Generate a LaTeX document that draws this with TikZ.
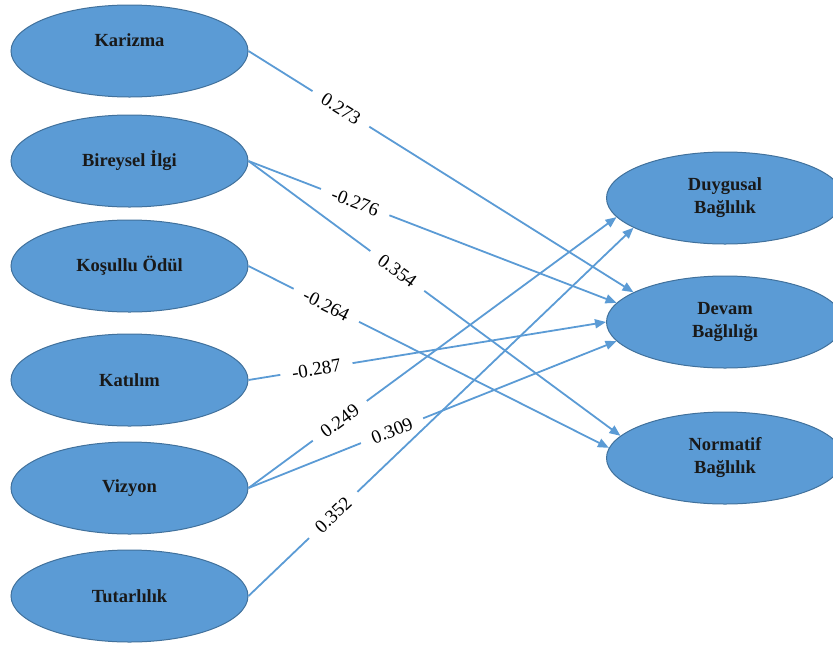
\documentclass[tikz,border=0pt]{standalone}
\usepackage{fontspec}
\setmainfont{Liberation Serif}
\usetikzlibrary{shapes.geometric,arrows.meta}
\definecolor{ofblue}{HTML}{5B9BD5}
\definecolor{ofedge}{HTML}{41719C}
\begin{document}
\begin{tikzpicture}[x=1pt,y=-1pt,
  ell/.style={ellipse, draw=ofedge, line width=1pt, fill=ofblue,
    minimum width=237pt, minimum height=92pt, inner sep=0pt,
    font=\fontsize{18.5}{23}\selectfont\bfseries, align=center, text=black!90},
  ntext/.style={font=\fontsize{18.5}{23}\selectfont\bfseries, text=black!90, inner sep=0pt},
  conn/.style={draw=ofblue, line width=1.8pt, -{Triangle[length=11pt,width=9pt]}},
  lbl/.style={fill=white, sloped, font=\fontsize{19}{22}\selectfont, inner xsep=12pt, inner ysep=1pt}]
\useasboundingbox (0,0) rectangle (833,646);
\clip (0,0) rectangle (833,646);
% left nodes
\node[ell] (kar) at (129.5,51) {};
\node[ntext] (kart) at ([yshift=11pt]kar.center) {Karizma};
\node[ell] (bir) at (129.5,161) {Bireysel İlgi};
\node[ell] (kos) at (129.5,266) {Koşullu Ödül};
\node[ell] (kat) at (129.5,380) {Katılım};
\node[ell] (viz) at (129.5,488) {Vizyon};
\node[ell] (tut) at (129.5,596) {Tutarlılık};
% right nodes
\node[ell] (duy) at (725,198) {Duygusal\\Bağlılık};
\node[ell] (dev) at (725,322) {Devam\\Bağlılığı};
\node[ell] (nor) at (725,458) {Normatif\\Bağlılık};
% connectors
\draw[conn] (kar.east) -- (dev.162);
\draw[conn] (bir.east) -- (dev.170);
\draw[conn] (bir.east) -- (nor.168);
\draw[conn] (kos.east) -- (nor.175);
\draw[conn] (kat.east) -- (dev.180);
\draw[conn] (viz.east) -- (duy.190);
\draw[conn] (viz.east) -- (dev.190);
\draw[conn] (tut.east) -- (duy.198);
% labels
\path (kar.east) -- (dev.162) node[lbl, pos=0.24] (l1) {0.273};
\path (bir.east) -- (dev.170) node[lbl, pos=0.29] (l2) {-0.276};
\path (bir.east) -- (nor.168) node[lbl, pos=0.40] (l3) {0.354};
\path (kos.east) -- (nor.175) node[lbl, pos=0.216] (l4) {-0.264};
\path (kat.east) -- (dev.180) node[lbl, pos=0.19] (l5) {-0.287};
\path (viz.east) -- (duy.190) node[lbl, pos=0.248] (l6) {0.249};
\path (viz.east) -- (dev.190) node[lbl, pos=0.39] (l7) {0.309};
\path (tut.east) -- (duy.198) node[lbl, pos=0.22] (l8) {0.352};
\end{tikzpicture}
\end{document}
